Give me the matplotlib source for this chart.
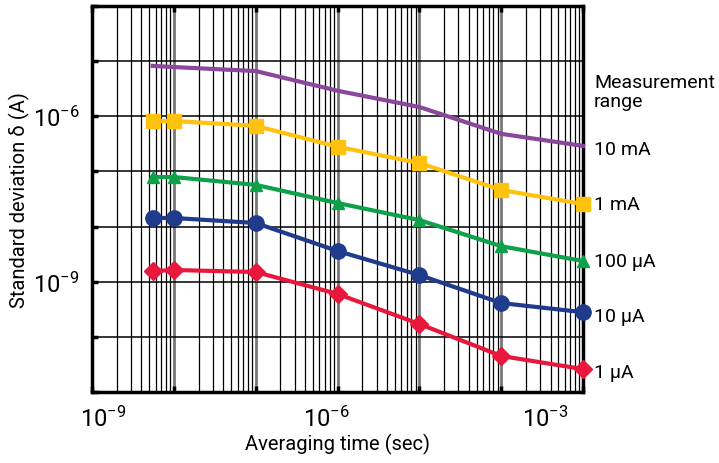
import matplotlib
matplotlib.use('Agg')
import matplotlib.pyplot as plt
import matplotlib.transforms as mtransforms
from matplotlib.ticker import LogLocator, NullFormatter

plt.rcParams['font.family'] = ['Roboto', 'DejaVu Sans']
plt.rcParams['mathtext.fontset'] = 'custom'
plt.rcParams['mathtext.rm'] = 'Roboto'

# data
avg_time = [5.5e-9, 1e-8, 1e-7, 1e-6, 1e-5, 1e-4, 1e-3]
sd_10mA = [8.2e-6, 7.8e-6, 6.6e-6, 2.9e-6, 1.47e-6, 4.8e-7, 2.9e-7]
sd_1mA = [8.2e-7, 8.2e-7, 6.7e-7, 2.8e-7, 1.42e-7, 4.6e-8, 2.56e-8]
sd_100uA = [7.9e-8, 7.9e-8, 5.7e-8, 2.67e-8, 1.31e-8, 4.4e-9, 2.37e-9]
sd_10uA = [1.43e-8, 1.43e-8, 1.16e-8, 3.6e-9, 1.32e-9, 4.1e-10, 2.8e-10]
sd_1uA = [1.56e-9, 1.63e-9, 1.5e-9, 6.0e-10, 1.71e-10, 4.5e-11, 2.6e-11]

range_names = ['10 mA', '1 mA', '100 µA', '10 µA', '1 µA']
x_labels = {1e-9: r'$\mathregular{10^{-9}}$', 1e-6: r'$\mathregular{10^{-6}}$', 1e-3: r'$\mathregular{10^{-3}}$'}
y_labels = {1e-6: r'$\mathregular{10^{-6}}$', 1e-9: r'$\mathregular{10^{-9}}$'}

series = [sd_10mA, sd_1mA, sd_100uA, sd_10uA, sd_1uA]
colors = ['#8A479B', '#FFC20E', '#0EA04B', '#203A8C', '#E8183C']
markers = [None, 's', '^', 'o', 'D']
msizes = [0, 10, 8, 11, 9]
# small vertical nudges (px) of the range names, as in the reference
name_dy = [-3, 0, 0, -4, -3]

fig = plt.figure(figsize=(7.19, 4.64), dpi=100)
ax = fig.add_axes([0.128, 0.153, 0.683, 0.832])
ax.set_xscale('log')
ax.set_yscale('log')
ax.set_xlim(1e-9, 1e-3)
ax.set_ylim(1e-11, 1e-4)

# grid paper look
ax.xaxis.set_minor_locator(LogLocator(base=10, subs=range(2, 10), numticks=20))
ax.xaxis.set_minor_formatter(NullFormatter())
ax.yaxis.set_minor_locator(LogLocator(base=10, subs=[], numticks=20))
ax.grid(True, which='major', axis='x', color='#777777', lw=2.0)
ax.grid(True, which='minor', axis='x', color='black', lw=0.9)
ax.grid(True, which='major', axis='y', color='black', lw=1.1)
ax.set_axisbelow(True)

for y, name, c, m, ms, dy in zip(series, range_names, colors, markers, msizes, name_dy):
    ax.plot(avg_time, y, color=c, lw=3, marker=m, markersize=ms, zorder=3, clip_on=False)
    off = mtransforms.ScaledTranslation(0, dy / 100.0, fig.dpi_scale_trans)
    ax.text(1.022, y[-1], name, transform=ax.get_yaxis_transform() + off,
            va='center', ha='left', fontsize=14)

ax.text(1.022, 10 ** -5.55, 'Measurement\nrange', transform=ax.get_yaxis_transform(),
        va='center', ha='left', fontsize=14, linespacing=1.1)

xdec = [10.0 ** k for k in range(-9, -2)]
ax.set_xticks(xdec)
ax.set_xticklabels([x_labels.get(v, '') for v in xdec], fontsize=17)
ydec = [10.0 ** k for k in range(-11, -3)]
ax.set_yticks(ydec)
ax.set_yticklabels([y_labels.get(v, '') for v in ydec], fontsize=17)

ax.tick_params(which='major', direction='in', length=4, width=2.5, top=True, bottom=True, left=True, right=False)
ax.tick_params(axis='x', which='major', pad=10)
ax.tick_params(axis='y', which='major', pad=9)
ax.tick_params(which='minor', length=0)

# the reference puts the x tick labels a little off the decade lines
shifts = {1e-9: 11, 1e-6: -11, 1e-3: -38}
for v, lab in zip(xdec, ax.get_xticklabels()):
    if v in shifts:
        off = mtransforms.ScaledTranslation(shifts[v] / 100.0, 0, fig.dpi_scale_trans)
        lab.set_transform(lab.get_transform() + off)

for s in ax.spines.values():
    s.set_linewidth(2.5)

ax.set_xlabel('Averaging time (sec)', fontsize=14.5, labelpad=1)
ax.set_ylabel('Standard deviation δ (A)', fontsize=14.5, labelpad=2)

fig.savefig('out.png', dpi=100)
